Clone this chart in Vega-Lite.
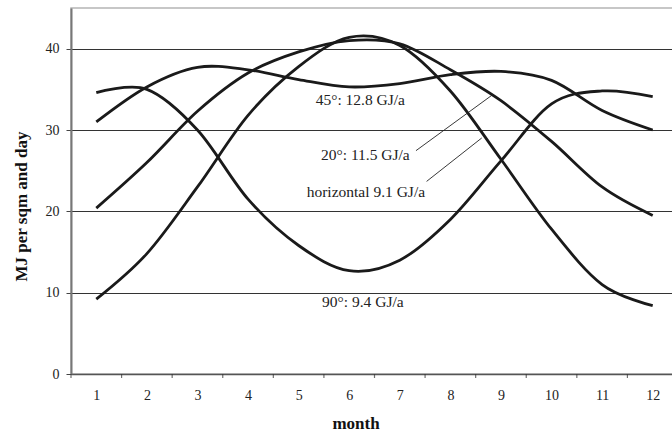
{
  "$schema": "https://vega.github.io/schema/vega-lite/v6.json",
  "width": 607,
  "height": 366,
  "autosize": "none",
  "padding": {"left": 71, "top": 8, "right": 0, "bottom": 59},
  "background": "white",
  "config": {
    "view": {"stroke": "#b5b5b5", "strokeWidth": 1.5},
    "font": "Liberation Serif"
  },
  "datasets": {
    "curves": [
      {"series": "45", "month": 1, "value": 31.0},
      {"series": "45", "month": 2, "value": 35.3},
      {"series": "45", "month": 3, "value": 37.7},
      {"series": "45", "month": 4, "value": 37.4},
      {"series": "45", "month": 5, "value": 36.2},
      {"series": "45", "month": 6, "value": 35.3},
      {"series": "45", "month": 7, "value": 35.7},
      {"series": "45", "month": 8, "value": 36.8},
      {"series": "45", "month": 9, "value": 37.2},
      {"series": "45", "month": 10, "value": 36.1},
      {"series": "45", "month": 11, "value": 32.4},
      {"series": "45", "month": 12, "value": 30.0},
      {"series": "20", "month": 1, "value": 20.4},
      {"series": "20", "month": 2, "value": 26.0},
      {"series": "20", "month": 3, "value": 32.3},
      {"series": "20", "month": 4, "value": 37.0},
      {"series": "20", "month": 5, "value": 39.6},
      {"series": "20", "month": 6, "value": 41.0},
      {"series": "20", "month": 7, "value": 40.6},
      {"series": "20", "month": 8, "value": 37.4},
      {"series": "20", "month": 9, "value": 33.6},
      {"series": "20", "month": 10, "value": 28.6},
      {"series": "20", "month": 11, "value": 23.0},
      {"series": "20", "month": 12, "value": 19.5},
      {"series": "horizontal", "month": 1, "value": 9.2},
      {"series": "horizontal", "month": 2, "value": 14.8},
      {"series": "horizontal", "month": 3, "value": 23.0},
      {"series": "horizontal", "month": 4, "value": 31.8},
      {"series": "horizontal", "month": 5, "value": 37.8},
      {"series": "horizontal", "month": 6, "value": 41.4},
      {"series": "horizontal", "month": 7, "value": 40.4},
      {"series": "horizontal", "month": 8, "value": 34.8},
      {"series": "horizontal", "month": 9, "value": 26.4},
      {"series": "horizontal", "month": 10, "value": 17.8},
      {"series": "horizontal", "month": 11, "value": 11.0},
      {"series": "horizontal", "month": 12, "value": 8.4},
      {"series": "90", "month": 1, "value": 34.6},
      {"series": "90", "month": 2, "value": 35.0},
      {"series": "90", "month": 3, "value": 30.0},
      {"series": "90", "month": 4, "value": 21.5},
      {"series": "90", "month": 5, "value": 15.8},
      {"series": "90", "month": 6, "value": 12.7},
      {"series": "90", "month": 7, "value": 14.0},
      {"series": "90", "month": 8, "value": 19.0},
      {"series": "90", "month": 9, "value": 26.2},
      {"series": "90", "month": 10, "value": 33.2},
      {"series": "90", "month": 11, "value": 34.8},
      {"series": "90", "month": 12, "value": 34.1}
    ],
    "labels": [
      {"month": 6.22, "value": 33.1, "text": "45°: 12.8 GJ/a"},
      {"month": 6.32, "value": 26.35, "text": "20°: 11.5 GJ/a"},
      {"month": 6.33, "value": 21.8, "text": "horizontal 9.1 GJ/a"},
      {"month": 6.27, "value": 8.25, "text": "90°: 9.4 GJ/a"}
    ],
    "leaders": [
      {"x1": 7.32, "y1": 27.46, "x2": 8.84, "y2": 34.36},
      {"x1": 7.53, "y1": 23.68, "x2": 8.62, "y2": 29.02}
    ],
    "ticks": [
      {"m": 0.5}, {"m": 1.5}, {"m": 2.5}, {"m": 3.5}, {"m": 4.5}, {"m": 5.5}, {"m": 6.5},
      {"m": 7.5}, {"m": 8.5}, {"m": 9.5}, {"m": 10.5}, {"m": 11.5}, {"m": 12.5}
    ]
  },
  "layer": [
    {
      "data": {"name": "curves"},
      "mark": {"type": "line", "interpolate": "cardinal", "color": "#1a1a1a", "strokeWidth": 2.8},
      "encoding": {
        "x": {
          "field": "month",
          "type": "quantitative",
          "scale": {"domain": [0.5, 12.5], "nice": false, "zero": false},
          "axis": {
            "values": [1, 2, 3, 4, 5, 6, 7, 8, 9, 10, 11, 12],
            "format": "d",
            "ticks": false,
            "grid": false,
            "title": "month",
            "titleFont": "Liberation Serif",
            "titleFontWeight": "bold",
            "titleFontSize": 17,
            "titleColor": "#111",
            "titleX": 284.5,
            "titleY": 54,
            "titleAlign": "center",
            "titleBaseline": "alphabetic",
            "labelFont": "Liberation Serif",
            "labelFontSize": 14,
            "labelColor": "#222",
            "labelPadding": 14,
            "labelFlush": false,
            "labelOverlap": false,
            "domainColor": "#555",
            "domainWidth": 1.5
          }
        },
        "y": {
          "field": "value",
          "type": "quantitative",
          "scale": {"domain": [0, 45], "nice": false},
          "axis": {
            "values": [0, 10, 20, 30, 40],
            "grid": true,
            "gridColor": "#333",
            "gridWidth": 1,
            "title": "MJ per sqm and day",
            "titleFont": "Liberation Serif",
            "titleFontWeight": "bold",
            "titleFontSize": 17,
            "titleColor": "#111",
            "titleAngle": 270,
            "titleX": -44.5,
            "titleY": 198,
            "titleAlign": "center",
            "titleBaseline": "alphabetic",
            "labelFont": "Liberation Serif",
            "labelFontSize": 14,
            "labelColor": "#222",
            "labelPadding": 7,
            "tickSize": 5,
            "tickColor": "#444",
            "domainColor": "#777",
            "domainWidth": 2
          }
        },
        "detail": {"field": "series", "type": "nominal"}
      }
    },
    {
      "data": {"name": "ticks"},
      "mark": {"type": "tick", "orient": "vertical", "color": "#333", "thickness": 1.2, "size": 4, "yOffset": 2},
      "encoding": {
        "x": {"field": "m", "type": "quantitative"},
        "y": {"datum": 0, "type": "quantitative"}
      }
    },
    {
      "data": {"name": "leaders"},
      "mark": {"type": "rule", "color": "#222", "strokeWidth": 0.9},
      "encoding": {
        "x": {"field": "x1", "type": "quantitative"},
        "y": {"field": "y1", "type": "quantitative"},
        "x2": {"field": "x2"},
        "y2": {"field": "y2"}
      }
    },
    {
      "data": {"name": "labels"},
      "mark": {"type": "text", "font": "Liberation Serif", "fontSize": 15.5, "color": "#222", "align": "center", "baseline": "alphabetic"},
      "encoding": {
        "x": {"field": "month", "type": "quantitative"},
        "y": {"field": "value", "type": "quantitative"},
        "text": {"field": "text"}
      }
    }
  ]
}
